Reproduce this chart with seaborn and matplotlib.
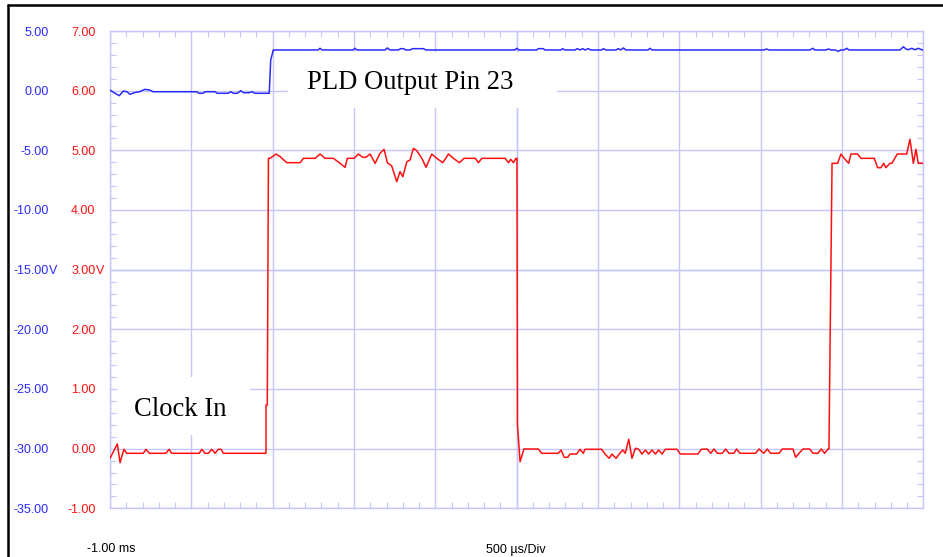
import matplotlib
matplotlib.use("Agg")
import matplotlib.pyplot as plt
import matplotlib.transforms as mtransforms
from matplotlib.ticker import MultipleLocator, NullFormatter
from matplotlib.patches import Rectangle
from matplotlib.lines import Line2D
import pandas as pd
import seaborn as sns

# ---- time base: starts at -1.00 ms, 500 us per division, 10 divisions ----
time_start_ms = -1.0
time_stop_ms = 4.0
time_per_div_ms = 0.5

# ---- channel scales (left label columns) ----
clock_ticks = [7, 6, 5, 4, 3, 2, 1, 0, -1]                 # 1 V/div
pld_ticks = [5, 0, -5, -10, -15, -20, -25, -30, -35]       # 5 V/div
clock_unit_tick = 3
pld_unit_tick = -15

# ---- Clock In trace (red), time in ms, level in V ----
clock_t_ms = [
    -1.000, -0.969, -0.955, -0.938, -0.922, -0.914, -0.897, -0.795, -0.779, -0.758,
    -0.656, -0.637, -0.621, -0.451, -0.436, -0.416, -0.395, -0.375, -0.354, -0.334,
    -0.317, -0.303, -0.041, -0.041, -0.033, -0.026, -0.016, 0.021, 0.046, 0.087,
    0.169, 0.189, 0.261, 0.292, 0.322, 0.373, 0.415, 0.445, 0.459, 0.501,
    0.527, 0.554, 0.574, 0.599, 0.630, 0.660, 0.685, 0.705, 0.732, 0.763,
    0.783, 0.800, 0.825, 0.845, 0.865, 0.886, 0.917, 0.943, 0.978, 1.009,
    1.046, 1.081, 1.111, 1.148, 1.177, 1.245, 1.265, 1.286, 1.429, 1.450,
    1.464, 1.480, 1.496, 1.502, 1.505, 1.521, 1.545, 1.633, 1.654, 1.756,
    1.773, 1.793, 1.814, 1.828, 1.869, 1.889, 1.910, 1.920, 2.023, 2.043,
    2.069, 2.086, 2.111, 2.131, 2.152, 2.168, 2.189, 2.209, 2.230, 2.250,
    2.271, 2.291, 2.312, 2.332, 2.353, 2.373, 2.394, 2.414, 2.486, 2.506,
    2.615, 2.635, 2.672, 2.693, 2.713, 2.734, 2.764, 2.785, 2.805, 2.836,
    2.852, 2.873, 2.969, 2.990, 3.020, 3.041, 3.061, 3.113, 3.133, 3.199,
    3.215, 3.236, 3.260, 3.301, 3.322, 3.352, 3.373, 3.393, 3.414, 3.420,
    3.430, 3.439, 3.473, 3.494, 3.514, 3.541, 3.555, 3.596, 3.617, 3.699,
    3.719, 3.740, 3.756, 3.770, 3.795, 3.807, 3.840, 3.898, 3.918, 3.939,
    3.955, 3.969, 4.000,
]
clock_v = [
    -0.162, 0.006, 0.078, -0.236, -0.078, -0.011, -0.078, -0.078, -0.011, -0.078,
    -0.078, -0.011, -0.078, -0.078, -0.011, -0.078, -0.078, -0.011, -0.078, -0.011,
    -0.011, -0.078, -0.078, 0.731, 0.731, 4.866, 4.866, 4.938, 4.893, 4.793,
    4.793, 4.866, 4.866, 4.938, 4.866, 4.866, 4.782, 4.715, 4.866, 4.866,
    4.938, 4.883, 4.883, 4.938, 4.782, 4.950, 5.017, 4.793, 4.737, 4.474,
    4.642, 4.558, 4.809, 4.838, 5.034, 4.994, 4.866, 4.715, 4.938, 4.866,
    4.793, 4.938, 4.866, 4.793, 4.866, 4.866, 4.793, 4.866, 4.866, 4.793,
    4.850, 4.793, 4.866, 4.866, 0.400, -0.219, -0.006, -0.006, -0.078, -0.078,
    -0.023, -0.146, -0.146, -0.090, -0.090, -0.011, -0.078, -0.011, -0.011, -0.090,
    -0.162, -0.090, -0.162, -0.090, -0.023, -0.078, 0.157, -0.162, 0.006, -0.011,
    -0.090, -0.023, -0.090, -0.023, -0.090, -0.023, -0.090, -0.011, -0.011, -0.090,
    -0.090, -0.011, -0.006, -0.078, -0.006, -0.078, -0.078, -0.006, -0.078, -0.078,
    -0.006, -0.078, -0.078, -0.006, -0.078, -0.006, -0.078, -0.078, -0.006, -0.006,
    -0.146, -0.078, -0.006, -0.006, -0.078, -0.078, -0.006, -0.078, -0.006, -0.006,
    2.490, 4.782, 4.782, 4.938, 4.866, 4.782, 4.938, 4.938, 4.866, 4.866,
    4.709, 4.709, 4.782, 4.709, 4.782, 4.782, 4.938, 4.938, 5.185, 4.782,
    5.017, 4.782, 4.782,
]

# ---- PLD Output Pin 23 trace (blue), time in ms, level in V ----
pld_t_ms = [
    -1.000, -0.969, -0.943, -0.918, -0.896, -0.877, -0.852, -0.820, -0.785, -0.758,
    -0.734, -0.467, -0.453, -0.428, -0.416, -0.354, -0.340, -0.273, -0.258, -0.242,
    -0.217, -0.196, -0.180, -0.145, -0.127, -0.109, -0.021, -0.012, 0.004, 0.021,
    0.279, 0.291, 0.304, 0.494, 0.506, 0.518, 0.691, 0.705, 0.721, 0.772,
    0.787, 0.803, 0.820, 0.844, 0.861, 0.926, 0.943, 1.490, 1.500, 1.514,
    1.623, 1.633, 1.664, 1.674, 1.771, 1.783, 1.795, 1.859, 1.873, 1.889,
    1.906, 1.920, 1.940, 1.955, 2.023, 2.033, 2.049, 2.111, 2.125, 2.140,
    2.156, 2.172, 2.308, 2.320, 2.332, 3.021, 3.037, 3.051, 3.303, 3.320,
    3.334, 3.402, 3.416, 3.436, 3.458, 3.477, 3.494, 3.513, 3.529, 3.543,
    3.857, 3.877, 3.893, 3.907, 3.929, 3.949, 3.969, 4.000,
]
pld_v = [
    0.055, -0.220, -0.420, -0.030, -0.090, -0.310, -0.170, -0.090, 0.110, 0.055,
    -0.090, -0.090, -0.220, -0.220, -0.090, -0.090, -0.220, -0.220, -0.090, -0.220,
    -0.220, 0.000, -0.170, -0.170, -0.090, -0.220, -0.220, 2.570, 3.410, 3.410,
    3.410, 3.550, 3.410, 3.410, 3.550, 3.410, 3.410, 3.580, 3.410, 3.410,
    3.520, 3.520, 3.410, 3.410, 3.520, 3.520, 3.410, 3.410, 3.550, 3.410,
    3.410, 3.520, 3.520, 3.410, 3.410, 3.520, 3.410, 3.410, 3.520, 3.410,
    3.520, 3.410, 3.520, 3.410, 3.410, 3.520, 3.410, 3.410, 3.520, 3.410,
    3.580, 3.410, 3.410, 3.550, 3.410, 3.410, 3.490, 3.410, 3.410, 3.550,
    3.410, 3.410, 3.490, 3.410, 3.410, 3.300, 3.410, 3.410, 3.550, 3.410,
    3.410, 3.680, 3.500, 3.430, 3.550, 3.430, 3.550, 3.380,
]

clock_df = pd.DataFrame({"t_ms": clock_t_ms, "volts": clock_v})
pld_df = pd.DataFrame({"t_ms": pld_t_ms, "volts": pld_v})

sns.set_style("white")
plt.rcParams["font.family"] = ["Liberation Sans", "DejaVu Sans"]

GRID = "#c6c6fb"
RED = "#ff1010"
BLUE = "#2a2aff"
W, H = 943, 557

fig = plt.figure(figsize=(W / 100, H / 100), dpi=100)
fig.patch.set_facecolor("white")

# screen rectangle in pixels: left 110, top 31, right 923, bottom 508
rect = [110 / W, (H - 508.3) / H, 813.3 / W, 477.3 / H]


def screen_axes(zorder):
    a = fig.add_axes(rect, zorder=zorder)
    a.set_xlim(time_start_ms, time_stop_ms)
    a.set_ylim(clock_ticks[-1], clock_ticks[0])
    a.patch.set_visible(False)
    return a


# base graticule: grid lines and edge minor ticks
ax = screen_axes(0)
ax.patch.set_visible(True)
ax.patch.set_facecolor("white")
ax.xaxis.set_major_locator(MultipleLocator(time_per_div_ms))
ax.xaxis.set_minor_locator(MultipleLocator(time_per_div_ms / 5))
ax.yaxis.set_major_locator(MultipleLocator(1))
ax.yaxis.set_minor_locator(MultipleLocator(0.2))
ax.grid(True, which="major", color=GRID, lw=1.0)
for s in ax.spines.values():
    s.set_color(GRID)
    s.set_linewidth(1.0)
ax.tick_params(which="major", length=0, labelleft=False, labelbottom=False)
ax.tick_params(which="minor", direction="in", length=4.4, width=0.8, color=GRID,
               top=True, right=True, left=True, bottom=True)

# centre cross with tick marks on both sides, plus the channel captions
cx = screen_axes(1)
for side in ("top", "right"):
    cx.spines[side].set_visible(False)
cx.spines["left"].set_position(("axes", 0.5))
cx.spines["bottom"].set_position(("axes", 0.5))
for side in ("left", "bottom"):
    cx.spines[side].set_color(GRID)
    cx.spines[side].set_linewidth(1.0)
cx.xaxis.set_major_locator(MultipleLocator(time_per_div_ms))
cx.xaxis.set_minor_locator(MultipleLocator(time_per_div_ms / 5))
cx.yaxis.set_major_locator(MultipleLocator(1))
cx.yaxis.set_minor_locator(MultipleLocator(0.2))
cx.tick_params(which="major", length=0, labelleft=False, labelbottom=False)
cx.tick_params(which="minor", direction="inout", length=8.6, width=0.8, color=GRID)
cx.xaxis.set_minor_formatter(NullFormatter())
cx.yaxis.set_minor_formatter(NullFormatter())

caption_font = dict(family=["Liberation Serif", "DejaVu Serif"], size=19.2, color="black")
cx.add_patch(Rectangle((0.2189, 0.8387), 0.3307, 0.1173, transform=cx.transAxes,
                       facecolor="white", edgecolor="none", zorder=3))
cx.text(0.2426, 0.8779, "PLD Output Pin 23", transform=cx.transAxes,
        ha="left", va="baseline", zorder=4, **caption_font)
cx.add_patch(Rectangle((0.0086, 0.1536), 0.1637, 0.1215, transform=cx.transAxes,
                       facecolor="white", edgecolor="none", zorder=3))
cx.text(0.0299, 0.1934, "Clock In", transform=cx.transAxes,
        ha="left", va="baseline", zorder=4, **caption_font)

# traces
rx = screen_axes(2)
rx.axis("off")
sns.lineplot(data=clock_df, x="t_ms", y="volts", ax=rx, color=RED, lw=1.1,
             estimator=None, sort=False, legend=False)
rx.set_xlim(time_start_ms, time_stop_ms)
rx.set_ylim(clock_ticks[-1], clock_ticks[0])

bx = screen_axes(3)
bx.axis("off")
sns.lineplot(data=pld_df, x="t_ms", y="volts", ax=bx, color=BLUE, lw=1.1,
             estimator=None, sort=False, legend=False)
bx.set_xlim(time_start_ms, time_stop_ms)
bx.set_ylim(pld_ticks[-1], pld_ticks[0])

# left label columns
label_font = dict(size=9, va="center_baseline")
pld_tf = mtransforms.blended_transform_factory(fig.transFigure, bx.transData)
clock_tf = mtransforms.blended_transform_factory(fig.transFigure, rx.transData)
for v in pld_ticks:
    fig.text(48.5 / W, v, f"{v:.2f}", transform=pld_tf, ha="right", color=BLUE, **label_font)
    if v == pld_unit_tick:
        fig.text(48.5 / W, v, "V", transform=pld_tf, ha="left", color=BLUE, **label_font)
for v in clock_ticks:
    fig.text(95.5 / W, v, f"{v:.2f}", transform=clock_tf, ha="right", color=RED, **label_font)
    if v == clock_unit_tick:
        fig.text(95.5 / W, v, "V", transform=clock_tf, ha="left", color=RED, **label_font)

# bottom readouts
fig.text(87 / W, 1 - 547 / H, f"{time_start_ms:.2f} ms", ha="left", va="center_baseline",
         size=9, color="black")
fig.text(486.5 / W, 1 - 548 / H, "500 \u00b5s/Div", ha="left", va="center_baseline",
         size=9, color="black")

# window frame (top and left edges)
fig.add_artist(Line2D([8 / W, 1.0], [1 - 5 / H, 1 - 5 / H], color="black", lw=1.8,
                      transform=fig.transFigure))
fig.add_artist(Line2D([8 / W, 8 / W], [0.0, 1 - 5 / H], color="black", lw=1.8,
                      transform=fig.transFigure))

fig.savefig("out.png", dpi=100, facecolor="white")
